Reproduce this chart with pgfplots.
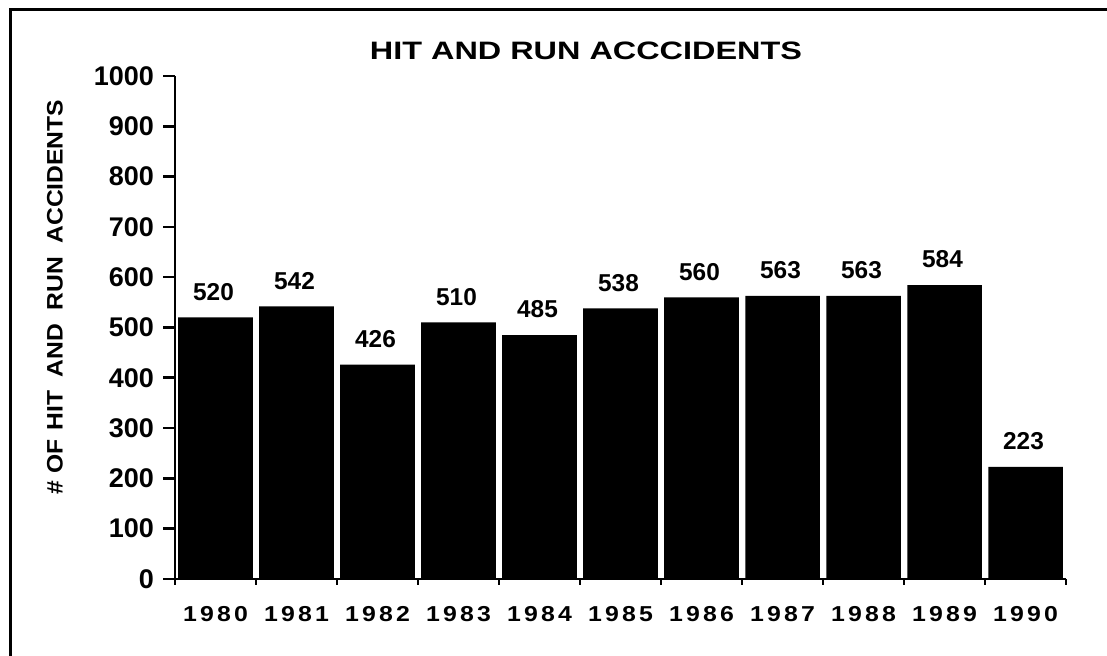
\documentclass[border=0pt]{standalone}
\usepackage{pgfplots}
\pgfplotsset{compat=1.18}
\usepackage{fontspec}
\setmainfont{Liberation Sans}
\newcommand\yr[4]{\scalebox{1.15}[1]{#1\hspace{1.4pt}#2\hspace{1.4pt}#3\hspace{1.4pt}#4}}
\begin{document}
\begin{tikzpicture}
\path (0,0) rectangle (553.5pt,328pt);
\draw[overlay, line width=1.5pt] (5pt,-20pt) -- (5pt,323pt) -- (620pt,323pt);
\node[font=\fontsize{12.6}{15}\selectfont\bfseries] at (293pt,302.5pt) {\scalebox{1.286}[1]{HIT AND RUN ACCCIDENTS}};
\node[rotate=90, font=\fontsize{11.2}{13}\selectfont\bfseries] at (27.5pt,179.5pt) {\scalebox{1.1}[1]{\# OF\hspace{1pt} HIT\hspace{3pt} AND\hspace{3pt} RUN\hspace{3pt} ACCIDENTS}};
\begin{axis}[
  at={(87.5pt,38.5pt)}, anchor=south west,
  scale only axis, width=445.5pt, height=251.5pt,
  xmin=-0.5, xmax=10.5, ymin=0, ymax=1000,
  axis x line*=bottom, axis y line*=left,
  axis line style={line width=1.4pt, black},
  ytick={0,100,...,1000},
  tick align=outside, major tick length=6pt, minor tick length=3pt,
  tick style={line width=1.3pt, black},
  xtick={0,...,10},
  xticklabels={\yr1980,\yr1981,\yr1982,\yr1983,\yr1984,\yr1985,\yr1986,\yr1987,\yr1988,\yr1989,\yr1990},
  major x tick style={draw=none},
  minor xtick={-0.5,0.5,...,10.5},
  /pgf/number format/assume math mode=true,
  /pgf/number format/1000 sep={},
  yticklabel style={font=\fontsize{13.5}{15}\selectfont\bfseries, xshift=-1pt},
  xticklabel style={font=\fontsize{10.8}{12}\selectfont\bfseries, yshift=-4pt},
  ybar, bar width=0.92,
  nodes near coords,
  nodes near coords style={font=\fontsize{12.2}{14}\selectfont\bfseries, anchor=south, yshift=5pt, xshift=-1pt},
  clip=false,
]
\addplot[fill=black, draw=none] coordinates {
(0,520) (1,542) (2,426) (3,510) (4,485) (5,538) (6,560) (7,563) (8,563) (9,584) (10,223)};
\end{axis}
\end{tikzpicture}
\end{document}
